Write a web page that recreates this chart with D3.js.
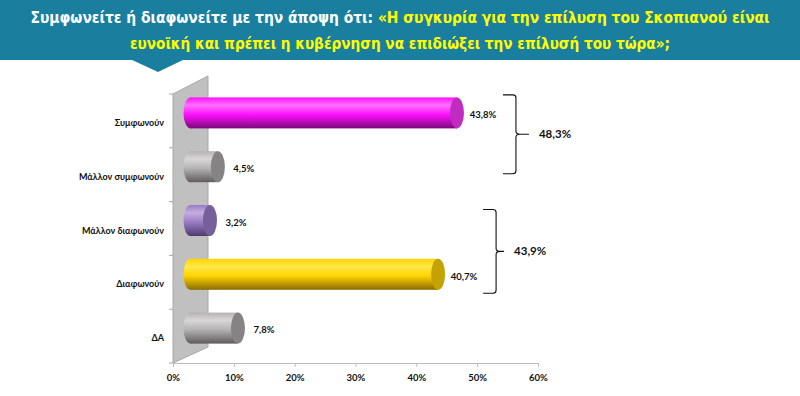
<!DOCTYPE html>
<html><head><meta charset="utf-8">
<script src="https://cdn.jsdelivr.net/npm/d3@7"></script>
<style>body{margin:0;background:#fff}svg{display:block}</style>
</head><body>
<script>
const categories = ["Συμφωνούν","Μάλλον συμφωνούν","Μάλλον διαφωνούν","Διαφωνούν","ΔΑ"];
const values = [43.8, 4.5, 3.2, 40.7, 7.8];
const valueLabels = ["43,8%","4,5%","3,2%","40,7%","7,8%"];
const tickValues = [0,10,20,30,40,50,60];
const tickLabels = ["0%","10%","20%","30%","40%","50%","60%"];
const groupLabels = ["48,3%","43,9%"];
const groupFrom = ["Συμφωνούν","Μάλλον διαφωνούν"];
const groupTo = ["Μάλλον συμφωνούν","Διαφωνούν"];
const titleLine1White = "Συμφωνείτε ή διαφωνείτε με την άποψη ότι: ";
const titleLine1Yellow = "«Η συγκυρία για την επίλυση του Σκοπιανού είναι";
const titleLine2 = "ευνοϊκή και πρέπει η κυβέρνηση να επιδιώξει την επίλυσή του τώρα»;";

const W=800,H=396;
const svg=d3.select("body").append("svg").attr("width",W).attr("height",H);
const defs=svg.append("defs");

// header
svg.append("rect").attr("x",0).attr("y",0).attr("width",W).attr("height",60).attr("fill","#1a7f9f");
svg.append("path").attr("d","M130,59 L185,59 L158,72 Z").attr("fill","#1a7f9f");
const tf="'DejaVu Sans Condensed','DejaVu Sans',sans-serif";
const t1=svg.append("text").attr("x",400).attr("y",23).attr("text-anchor","middle")
  .attr("font-family",tf).attr("font-weight","bold").attr("font-size",15);
t1.append("tspan").attr("fill","#ffffff").text(titleLine1White);
t1.append("tspan").attr("fill","#ffff00").text(titleLine1Yellow);
const t2=svg.append("text").attr("x",400).attr("y",49).attr("text-anchor","middle")
  .attr("font-family",tf).attr("font-weight","bold").attr("font-size",15).attr("fill","#ffff00").text(titleLine2);
const w1=t1.node().getComputedTextLength();
const fs=15*740/w1;
t1.attr("font-size",fs); t2.attr("font-size",fs);
const w2=t2.node().getComputedTextLength();
if (w2>540) t2.attr("textLength",540).attr("lengthAdjust","spacingAndGlyphs");

// scales
const x=d3.scaleLinear().domain([0,60]).range([173,538]);
const y=d3.scaleBand().domain(categories).range([94,363]);
const dX=35, dY=-17; // depth
const bx=dX/2, by=dY/2+0.5;
const bh=31, rx=7;
const yc=c=>y(c)+y.bandwidth()/2+by;

// wall
svg.append("path")
  .attr("d",`M${x(0)},${y.range()[0]} L${x(0)+dX},${y.range()[0]+dY-1} L${x(0)+dX},${y.range()[1]+dY+1} L${x(0)},${y.range()[1]} Z`)
  .attr("fill","#c0c0c0").attr("stroke","#a8a8a8").attr("stroke-width",1);

// category ticks
const bounds=categories.map(c=>y(c)).concat([y.range()[1]]);
svg.append("g").selectAll("line").data(bounds).join("line")
  .attr("x1",x(0)-4).attr("x2",x(0)).attr("y1",d=>d).attr("y2",d=>d).attr("stroke","#a8a8a8");

// axis
const axis=svg.append("g").attr("transform",`translate(0,${y.range()[1]})`)
  .call(d3.axisBottom(x).tickValues(tickValues).tickFormat((d,i)=>tickLabels[i]).tickSize(4).tickPadding(7));
axis.select(".domain").attr("stroke","#bbbbbb");
axis.selectAll(".tick line").attr("stroke","#bbbbbb");
axis.selectAll(".tick text").attr("font-family","Lato,'DejaVu Sans',sans-serif").attr("font-weight","bold").attr("font-size",9.5).attr("fill","#111");

// gradients
const pal=[
 {top:"#ff70ff",mid:"#ff10ff",bot:"#7a0a7a",cap:"#c02cc0"},
 {top:"#d8d6d6",mid:"#b4b2b2",bot:"#5e5c5c",cap:"#858383"},
 {top:"#c4aee0",mid:"#9a7cc4",bot:"#4e3a70",cap:"#76609a"},
 {top:"#ffe84a",mid:"#ffd400",bot:"#8a6c00",cap:"#c4a200"},
 {top:"#d8d6d6",mid:"#b4b2b2",bot:"#5e5c5c",cap:"#858383"}
];
pal.forEach((p,i)=>{
  const g=defs.append("linearGradient").attr("id","g"+i).attr("x1",0).attr("x2",0).attr("y1",0).attr("y2",1);
  g.append("stop").attr("offset","0%").attr("stop-color",p.mid);
  g.append("stop").attr("offset","25%").attr("stop-color",p.top);
  g.append("stop").attr("offset","55%").attr("stop-color",p.mid);
  g.append("stop").attr("offset","100%").attr("stop-color",p.bot);
});

const bars=svg.append("g").selectAll("g").data(categories).join("g");
bars.append("ellipse").attr("cx",x(0)+bx).attr("cy",c=>yc(c)).attr("rx",rx).attr("ry",bh/2)
  .attr("fill",(c,i)=>`url(#g${i})`);
bars.append("rect").attr("x",x(0)+bx).attr("y",c=>yc(c)-bh/2)
  .attr("width",(c,i)=>x(values[i])-x(0)).attr("height",bh).attr("fill",(c,i)=>`url(#g${i})`);
bars.append("ellipse").attr("cx",(c,i)=>x(values[i])+bx).attr("cy",c=>yc(c)).attr("rx",rx).attr("ry",bh/2)
  .attr("fill",(c,i)=>pal[i].cap);

// value labels
svg.append("g").selectAll("text").data(categories).join("text")
  .attr("x",(c,i)=>x(values[i])+bx+26).attr("y",c=>yc(c)+2).attr("dy","0.35em")
  .attr("text-anchor","middle").attr("font-family","Lato,'DejaVu Sans',sans-serif").attr("font-weight","bold")
  .attr("font-size",9.5).attr("fill","#111").text((c,i)=>valueLabels[i]);

// category labels
svg.append("g").selectAll("text").data(categories).join("text")
  .attr("x",164).attr("y",c=>y(c)+y.bandwidth()/2+2).attr("dy","0.35em")
  .attr("text-anchor","end").attr("font-family","Lato,'DejaVu Sans',sans-serif").attr("font-weight","bold")
  .attr("font-size",9).attr("fill","#111").text(c=>c);

// brackets
const topOff=[-18,-11], botOff=[7,19], xOff=[59,58], nub=[13,8];
groupLabels.forEach((lab,i)=>{
  const iFrom=categories.indexOf(groupFrom[i]), iTo=categories.indexOf(groupTo[i]);
  const mx=d3.max(values.slice(iFrom,iTo+1));
  const xv=x(mx)+bx+xOff[i];
  const t=yc(groupFrom[i])+topOff[i], b=yc(groupTo[i])+botOff[i], m=(t+b)/2;
  const n=nub[i];
  const d=`M${xv-13},${t} L${xv-3},${t} Q${xv},${t} ${xv},${t+3} L${xv},${m-3} Q${xv},${m} ${xv+4},${m} L${xv+n},${m}
           M${xv+4},${m} Q${xv},${m} ${xv},${m+3} L${xv},${b-3} Q${xv},${b} ${xv-3},${b} L${xv-13},${b}`;
  svg.append("path").attr("d",d).attr("fill","none").attr("stroke","#111").attr("stroke-width",1.1);
  svg.append("text").attr("x",xv+n+10).attr("y",m).attr("dy","0.35em")
    .attr("font-family","Lato,'DejaVu Sans',sans-serif").attr("font-weight","bold").attr("font-size",11.5)
    .attr("fill","#111").text(lab);
});
</script>
</body></html>
